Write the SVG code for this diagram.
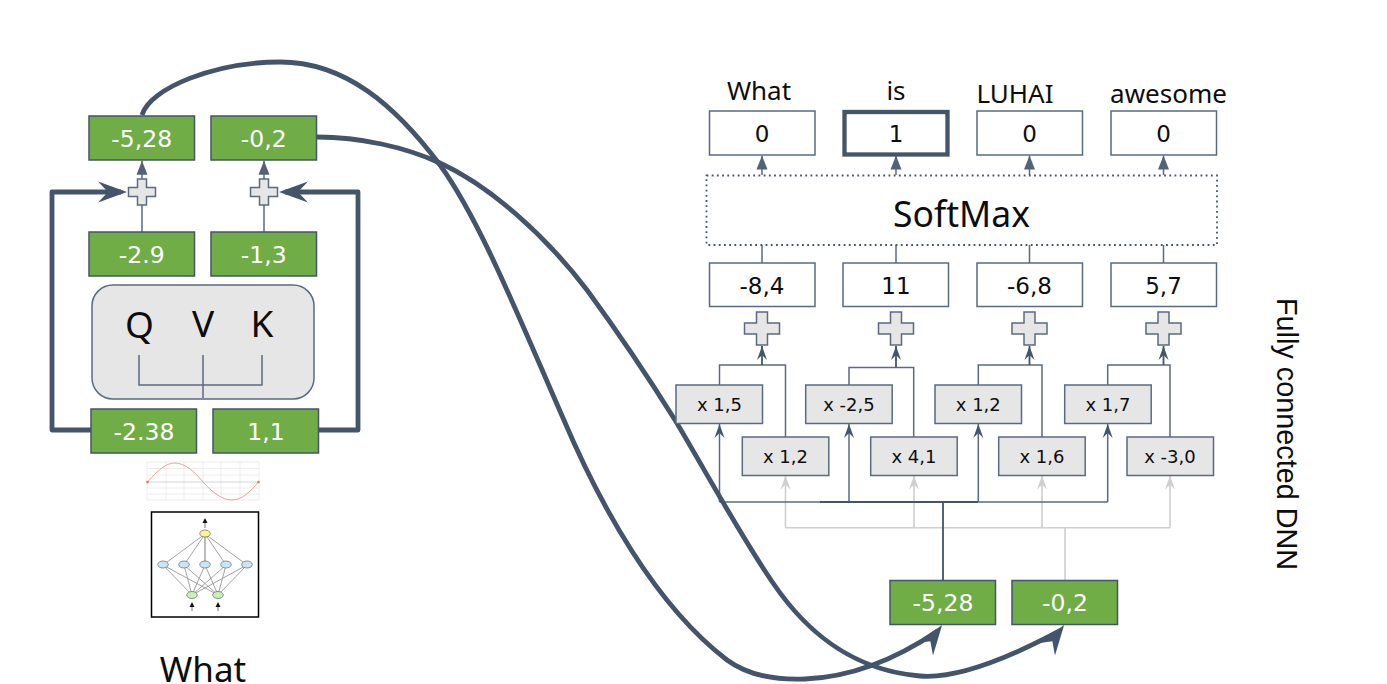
<svg xmlns="http://www.w3.org/2000/svg" width="1387" height="684" viewBox="0 0 1387 684">
<style>
text{text-anchor:middle;fill:#0d0d0d;font-family:"Noto Sans","Liberation Sans",sans-serif}
.num{font-family:"DejaVu Sans","Liberation Sans",sans-serif;font-size:23px}
.wnum{font-family:"DejaVu Sans","Liberation Sans",sans-serif;font-size:23.5px;fill:#fff}
.mul{font-family:"DejaVu Sans","Liberation Sans",sans-serif;font-size:18px}
.word{font-size:26px}
.qvk{font-size:37px}
.green{fill:#70ad47;stroke:#44546a;stroke-width:1.5}
.white{fill:#fff;stroke:#5b6a80;stroke-width:1.5}
.grey{fill:#e7e6e6;stroke:#5b6a80;stroke-width:1.5}
.plus{fill:#e7e6e6;stroke:#5b6a80;stroke-width:1.5}
.thin{fill:none;stroke:#5b6a80;stroke-width:1.5}
.dark{fill:none;stroke:#44546a;stroke-width:1.8}
.light{fill:none;stroke:#d0cece;stroke-width:1.6}
.thick{fill:none;stroke:#44546a;stroke-width:4.8;stroke-linejoin:round}
.nn{stroke:#999;stroke-width:.9;fill:none}
.nnd{fill:none;stroke:#777;stroke-width:.8}
marker{overflow:visible}
</style>
<defs>
<marker id="bigHead" markerUnits="userSpaceOnUse" orient="auto" refX="0" refY="0" markerWidth="40" markerHeight="30"><path d="M-23,-10.5 L6,0 L-23,10.5 L-13,0z" fill="#44546a"/></marker>
<marker id="curveHead" markerUnits="userSpaceOnUse" orient="-54" refX="0" refY="0" markerWidth="40" markerHeight="30"><path d="M-23,-10.5 L7,0 L-23,10.5 L-13,0z" fill="#44546a"/></marker>
<marker id="tri" markerUnits="userSpaceOnUse" orient="auto" refX="0" refY="0" markerWidth="20" markerHeight="14"><path d="M-14,-5.5 L0,0 L-14,5.5z" fill="#536279"/></marker>
<marker id="open" markerUnits="userSpaceOnUse" orient="auto" refX="0" refY="0" markerWidth="20" markerHeight="14"><path d="M-14,-5 L0,0 L-14,5 L-9,0z" fill="#44546a"/></marker>
<marker id="openLight" markerUnits="userSpaceOnUse" orient="auto" refX="0" refY="0" markerWidth="20" markerHeight="14"><path d="M-14,-5 L0,0 L-14,5 L-9,0z" fill="#d0cece"/></marker>
<path id="plusS" d="M-4.5,-13 H4.5 V-4.5 H13.5 V4.5 H4.5 V13 H-4.5 V4.5 H-13.5 V-4.5 H-4.5z"/>
<path id="plusL" d="M-5.5,-16.5 H5.5 V-5.5 H17.5 V5.5 H5.5 V16.5 H-5.5 V5.5 H-17.5 V-5.5 H-5.5z"/>
</defs>

<g id="connectors">
<path class="thin" d="M142 179V160.7" marker-end="url(#tri)"/>
<path class="thin" d="M264 179V160.7" marker-end="url(#tri)"/>
<path class="thin" d="M142 232V205M264 232V205"/>
<path class="thick" d="M91 430H52V192H121" marker-end="url(#bigHead)"/>
<path class="thick" d="M319 430H358V192H285" marker-end="url(#bigHead)"/>
<path class="thin" d="M762 175V155.5" marker-end="url(#tri)"/>
<path class="thin" d="M896 175V155.5" marker-end="url(#tri)"/>
<path class="thin" d="M1029.5 175V155.5" marker-end="url(#tri)"/>
<path class="thin" d="M1163.5 175V155.5" marker-end="url(#tri)"/>
<path class="thin" d="M762 245V263M896 245V263M1029.5 245V263M1163.5 245V263"/>
<path class="thin" d="M719.5 385V365H785.5V437"/>
<path class="thin" d="M849 385V367.5H913.7V437"/>
<path class="thin" d="M978.3 385V365H1042V437"/>
<path class="thin" d="M1107.7 385V365H1170V437"/>
<path class="dark" d="M762 365V346" marker-end="url(#open)"/>
<path class="dark" d="M896 367.5V346" marker-end="url(#open)"/>
<path class="dark" d="M1029.5 365V346" marker-end="url(#open)"/>
<path class="dark" d="M1163.5 365V346" marker-end="url(#open)"/>
<path class="light" d="M785.5 527.7H1170"/>
<path class="light" d="M785.5 527.7V475.5" marker-end="url(#openLight)"/>
<path class="light" d="M914 527.7V475.5" marker-end="url(#openLight)"/>
<path class="light" d="M1042 527.7V475.5" marker-end="url(#openLight)"/>
<path class="light" d="M1170 527.7V475.5" marker-end="url(#openLight)"/>
<path class="light" d="M1065 527.7V580"/>
<path class="thin" d="M719.5 502H1107.7"/>
<path class="thin" d="M719.5 502V424" marker-end="url(#open)"/>
<path class="thin" d="M849 502V424" marker-end="url(#open)"/>
<path class="thin" d="M978.3 502V424" marker-end="url(#open)"/>
<path class="thin" d="M1107.7 502V424" marker-end="url(#open)"/>
<path class="dark" d="M943 502V580M820 502H978"/>
<path class="thick" d="M142 115C150 88 215 62 280 62C345 62 395 105 440 165C480 220 520 320 563 418C600 505 655 605 727 660C750 677 780 680 805 679C850 677 895 660 938 630.7" marker-end="url(#curveHead)"/>
<path class="thick" d="M317 137C360 137 405 147 440 163C490 186 545 235 587 290C620 335 650 380 675 420C705 470 740 535 773 583C805 630 850 670 920 676C955 679 1005 660 1060 630.7" marker-end="url(#curveHead)"/>
</g>

<g id="out-a"><rect class="green" x="89" y="116" width="105.500" height="44"/><text class="wnum" x="141.700" y="146.500">-5,28</text></g>
<g id="out-b"><rect class="green" x="211" y="116" width="105.500" height="44"/><text class="wnum" x="263.700" y="146.500">-0,2</text></g>
<g id="add-a"><use href="#plusS" class="plus" x="142" y="192"/></g>
<g id="add-b"><use href="#plusS" class="plus" x="264" y="192"/></g>
<g id="val-a"><rect class="green" x="89" y="232" width="105.500" height="44"/><text class="wnum" x="141.700" y="262.500">-2.9</text></g>
<g id="val-b"><rect class="green" x="211" y="232" width="105.500" height="44"/><text class="wnum" x="263.700" y="262.500">-1,3</text></g>

<g id="qvk">
<rect x="92" y="285" width="222" height="114" rx="21" fill="#e7e6e6" stroke="#5b6a80" stroke-width="1.5"/>
<text class="qvk" x="139.500" y="338">Q</text>
<text class="qvk" x="203" y="337">V</text>
<text class="qvk" x="262" y="337">K</text>
<path class="thin" d="M139 355V385H262V355M203 355V398"/>
</g>

<g id="in-a"><rect class="green" x="91" y="409" width="105.500" height="44"/><text class="wnum" x="144" y="439.500">-2.38</text></g>
<g id="in-b"><rect class="green" x="213" y="409" width="105.500" height="44"/><text class="wnum" x="266" y="439.500">1,1</text></g>

<g id="sine">
<path d="M147 462H259M147 468.500H259M147 475H259M147 488H259M147 494H259M147 500H259M147 462V500M166 462V500M184 462V500M203 462V500M221 462V500M240 462V500M259 462V500" fill="none" stroke="#e8e8e8" stroke-width=".8"/>
<path d="M147 482H259" stroke="#ccc" stroke-width=".8" fill="none"/>
<path d="M147.500 482C158 470 166 463 175 463C185 463 195 472 203 482C212 492 222 500 232 500C242 500 250 492 258.500 482" fill="none" stroke="#e6a3a3" stroke-width="1"/>
<circle cx="147.500" cy="482" r="1.300" fill="#e07070"/><circle cx="258.500" cy="482" r="1.300" fill="#e07070"/>
</g>

<g id="network">
<rect x="151.500" y="512" width="107" height="105" fill="#fff" stroke="#000" stroke-width="1.500"/>
<path class="nn" d="M205 534L163 565M205 534L184 565M205 534L226 565M205 534L247 565M163 565L192 595M163 565L218 595M184 565L192 595M184 565L218 595M205 565L192 595M205 565L218 595M226 565L192 595M226 565L218 595M247 565L192 595M247 565L218 595"/>
<path d="M205 534V565" stroke="#aaa" stroke-width="1.600"/>
<path d="M205 528V522M192 611V606M218 611V606" stroke="#777" stroke-width="1"/>
<path d="M205 518l-2.500 5h5zM192 602l-2.500 5h5zM218 602l-2.500 5h5z" fill="#111"/>
<ellipse cx="205" cy="533.500" rx="5.300" ry="3.500" class="nnd" style="fill:#fdf58a"/>
<ellipse cx="163" cy="564.500" rx="5.300" ry="3.500" class="nnd" style="fill:#c9e6f8"/><ellipse cx="184" cy="564.500" rx="5.300" ry="3.500" class="nnd" style="fill:#c9e6f8"/><ellipse cx="205" cy="564.500" rx="5.300" ry="3.500" class="nnd" style="fill:#c9e6f8"/><ellipse cx="226" cy="564.500" rx="5.300" ry="3.500" class="nnd" style="fill:#c9e6f8"/><ellipse cx="247" cy="564.500" rx="5.300" ry="3.500" class="nnd" style="fill:#c9e6f8"/>
<ellipse cx="192" cy="595" rx="5.300" ry="3.500" class="nnd" style="fill:#c6f2b6"/>
<ellipse cx="218" cy="595" rx="5.300" ry="3.500" class="nnd" style="fill:#c6f2b6"/>
</g>
<text id="label-what" x="203" y="682" font-size="35">What</text>

<g id="prob-what"><text class="word" x="759" y="100">What</text><rect class="white" x="709.500" y="111" width="105.500" height="44"/><text class="num" x="762" y="141.500">0</text></g>
<g id="prob-is"><text class="word" x="896" y="100">is</text><rect x="844.500" y="112" width="103" height="42.500" fill="#fff" stroke="#44546a" stroke-width="4.300"/><text class="num" x="896" y="141.500">1</text></g>
<g id="prob-luhai"><text class="word" x="1015" y="102.700">LUHAI</text><rect class="white" x="977" y="111" width="105.500" height="44"/><text class="num" x="1029.500" y="141.500">0</text></g>
<g id="prob-awesome"><text class="word" x="1168.500" y="102.700">awesome</text><rect class="white" x="1111" y="111" width="105.500" height="44"/><text class="num" x="1163.500" y="141.500">0</text></g>

<g id="softmax"><rect x="706.500" y="175.500" width="510.500" height="69.500" fill="#fff" stroke="#44546a" stroke-width="1.800" stroke-dasharray="1.800 3.400"/><text x="961.500" y="227" font-size="35.500">SoftMax</text></g>

<g id="logit-1"><rect class="white" x="709.500" y="263" width="105.500" height="43.500"/><text class="num" x="762" y="293.500">-8,4</text></g>
<g id="logit-2"><rect class="white" x="843" y="263" width="105.500" height="43.500"/><text class="num" x="896" y="293.500">11</text></g>
<g id="logit-3"><rect class="white" x="977" y="263" width="105.500" height="43.500"/><text class="num" x="1029.500" y="293.500">-6,8</text></g>
<g id="logit-4"><rect class="white" x="1111" y="263" width="105.500" height="43.500"/><text class="num" x="1163.500" y="293.500">5,7</text></g>

<g id="sum-1"><use href="#plusL" class="plus" x="762" y="328.500"/></g>
<g id="sum-2"><use href="#plusL" class="plus" x="896" y="328.500"/></g>
<g id="sum-3"><use href="#plusL" class="plus" x="1029.500" y="328.500"/></g>
<g id="sum-4"><use href="#plusL" class="plus" x="1163.500" y="328.500"/></g>

<g id="w1a"><rect class="grey" x="676" y="385" width="86.500" height="38.500"/><text class="mul" x="719.500" y="411">x 1,5</text></g>
<g id="w2a"><rect class="grey" x="805.700" y="385" width="86.500" height="38.500"/><text class="mul" x="849" y="411">x -2,5</text></g>
<g id="w3a"><rect class="grey" x="935" y="385" width="86.500" height="38.500"/><text class="mul" x="978.300" y="411">x 1,2</text></g>
<g id="w4a"><rect class="grey" x="1064.700" y="385" width="86.500" height="38.500"/><text class="mul" x="1108" y="411">x 1,7</text></g>
<g id="w1b"><rect class="grey" x="742.300" y="437" width="86.500" height="38.500"/><text class="mul" x="785.500" y="463">x 1,2</text></g>
<g id="w2b"><rect class="grey" x="870.700" y="437" width="86.500" height="38.500"/><text class="mul" x="914" y="463">x 4,1</text></g>
<g id="w3b"><rect class="grey" x="998.700" y="437" width="86.500" height="38.500"/><text class="mul" x="1042" y="463">x 1,6</text></g>
<g id="w4b"><rect class="grey" x="1127" y="437" width="86.500" height="38.500"/><text class="mul" x="1170" y="463">x -3,0</text></g>

<g id="in2-a"><rect class="green" x="890" y="580.500" width="105.500" height="44"/><text class="wnum" x="943" y="611">-5,28</text></g>
<g id="in2-b"><rect class="green" x="1012" y="580.500" width="105.500" height="44"/><text class="wnum" x="1065" y="611">-0,2</text></g>

<text id="label-dnn" transform="translate(1277,298) rotate(90)" style="text-anchor:start;font-family:'Liberation Sans',Arial,sans-serif;font-size:28.800px">Fully connected DNN</text>
</svg>
